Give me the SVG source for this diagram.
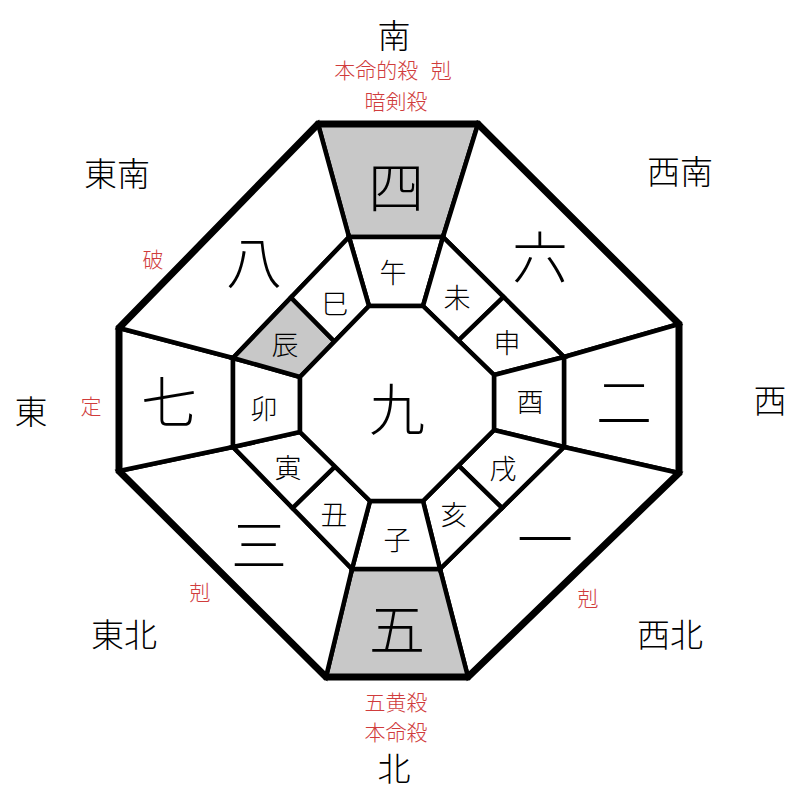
<svg xmlns="http://www.w3.org/2000/svg" width="800" height="800" viewBox="0 0 800 800">
<style>
text{font-family:"Noto Sans CJK JP","Noto Sans CJK SC",sans-serif;text-anchor:middle;dominant-baseline:central;fill:#000}
.cell{fill:#fff;stroke:#000;stroke-width:4.5;stroke-linejoin:miter}
.gray{fill:#c8c8c8}
.outer{fill:none;stroke:#000;stroke-width:7;stroke-linejoin:miter}
.big{font-size:56px;font-weight:300}
.br{font-size:27px;font-weight:300}
.dir{font-size:33px;font-weight:300}
.red{font-size:21px;fill:#d03c3c;font-weight:300}
</style>
<rect width="800" height="800" fill="#fff"/>
<g id="outer-cells">
<g id="cell-4"><polygon class="cell gray" points="318,124 478,124 443,237 349,237"/><text class="big" x="396" y="183">四</text></g>
<g id="cell-6"><polygon class="cell" points="478,124 679,324 564,357 443,237"/><text class="big" x="540" y="253">六</text></g>
<g id="cell-2"><polygon class="cell" points="679,324 679,473 564,447 564,357"/><text class="big" x="624" y="398">二</text></g>
<g id="cell-1"><polygon class="cell" points="679,473 468,677 440,569 564,447"/><text class="big" x="545" y="535">一</text></g>
<g id="cell-5"><polygon class="cell gray" points="468,677 326,677 352,569 440,569"/><text class="big" x="397" y="625">五</text></g>
<g id="cell-3"><polygon class="cell" points="326,677 119,471 233,447 352,569"/><text class="big" x="259" y="541">三</text></g>
<g id="cell-7"><polygon class="cell" points="119,471 119,328 233,358 233,447"/><text class="big" x="169" y="398">七</text></g>
<g id="cell-8"><polygon class="cell" points="119,328 318,124 349,237 233,358"/><text class="big" x="254" y="258">八</text></g>
</g>
<g id="ring-cells">
<g id="cell-uma"><polygon class="cell" points="349,237 443,237 423,306 369,306"/><text class="br" x="393" y="271">午</text></g>
<g id="cell-hitsuji"><polygon class="cell" points="443,237 503.5,297 458.5,340.5 423,306"/><text class="br" x="457" y="296">未</text></g>
<g id="cell-saru"><polygon class="cell" points="503.5,297 564,357 494,375 458.5,340.5"/><text class="br" x="507" y="341">申</text></g>
<g id="cell-tori"><polygon class="cell" points="564,357 564,447 494,430 494,375"/><text class="br" x="530" y="400">酉</text></g>
<g id="cell-inu"><polygon class="cell" points="564,447 502,508 458.5,465.5 494,430"/><text class="br" x="503" y="467">戌</text></g>
<g id="cell-i"><polygon class="cell" points="502,508 440,569 423,501 458.5,465.5"/><text class="br" x="454" y="513">亥</text></g>
<g id="cell-ne"><polygon class="cell" points="440,569 352,569 370,501 423,501"/><text class="br" x="397" y="538">子</text></g>
<g id="cell-ushi"><polygon class="cell" points="352,569 292.5,508 335,466.5 370,501"/><text class="br" x="334" y="513">丑</text></g>
<g id="cell-tora"><polygon class="cell" points="292.5,508 233,447 300,432 335,466.5"/><text class="br" x="288" y="466">寅</text></g>
<g id="cell-u"><polygon class="cell" points="233,447 233,358 300,377 300,432"/><text class="br" x="264" y="407">卯</text></g>
<g id="cell-tatsu"><polygon class="cell gray" points="233,358 291,297.5 334.5,341.5 300,377"/><text class="br" x="285" y="343">辰</text></g>
<g id="cell-mi"><polygon class="cell" points="291,297.5 349,237 369,306 334.5,341.5"/><text class="br" x="335" y="302">巳</text></g>
</g>
<g id="center"><polygon class="cell" points="369,306 423,306 494,375 494,430 423,501 370,501 300,432 300,377"/><text class="big" x="397" y="405">九</text></g>
<g id="connectors"><polygon class="outer" points="318,124 478,124 679,324 679,473 468,677 326,677 119,471 119,328"/></g>
<g id="labels">
<text class="dir" x="394" y="34">南</text>
<text class="red" x="393" y="69" word-spacing="8">本命的殺 剋</text>
<text class="red" x="396" y="100">暗剣殺</text>
<text class="dir" x="394" y="767">北</text>
<text class="red" x="396" y="701">五黄殺</text>
<text class="red" x="396" y="731">本命殺</text>
<text class="dir" x="31" y="410">東</text>
<text class="dir" x="770" y="399">西</text>
<text class="dir" x="117" y="172">東南</text>
<text class="dir" x="680" y="170">西南</text>
<text class="dir" x="124" y="633">東北</text>
<text class="dir" x="670" y="633">西北</text>
<text class="red" x="153" y="258">破</text>
<text class="red" x="91" y="405">定</text>
<text class="red" x="200" y="591">剋</text>
<text class="red" x="588" y="597">剋</text>
</g>
</svg>
